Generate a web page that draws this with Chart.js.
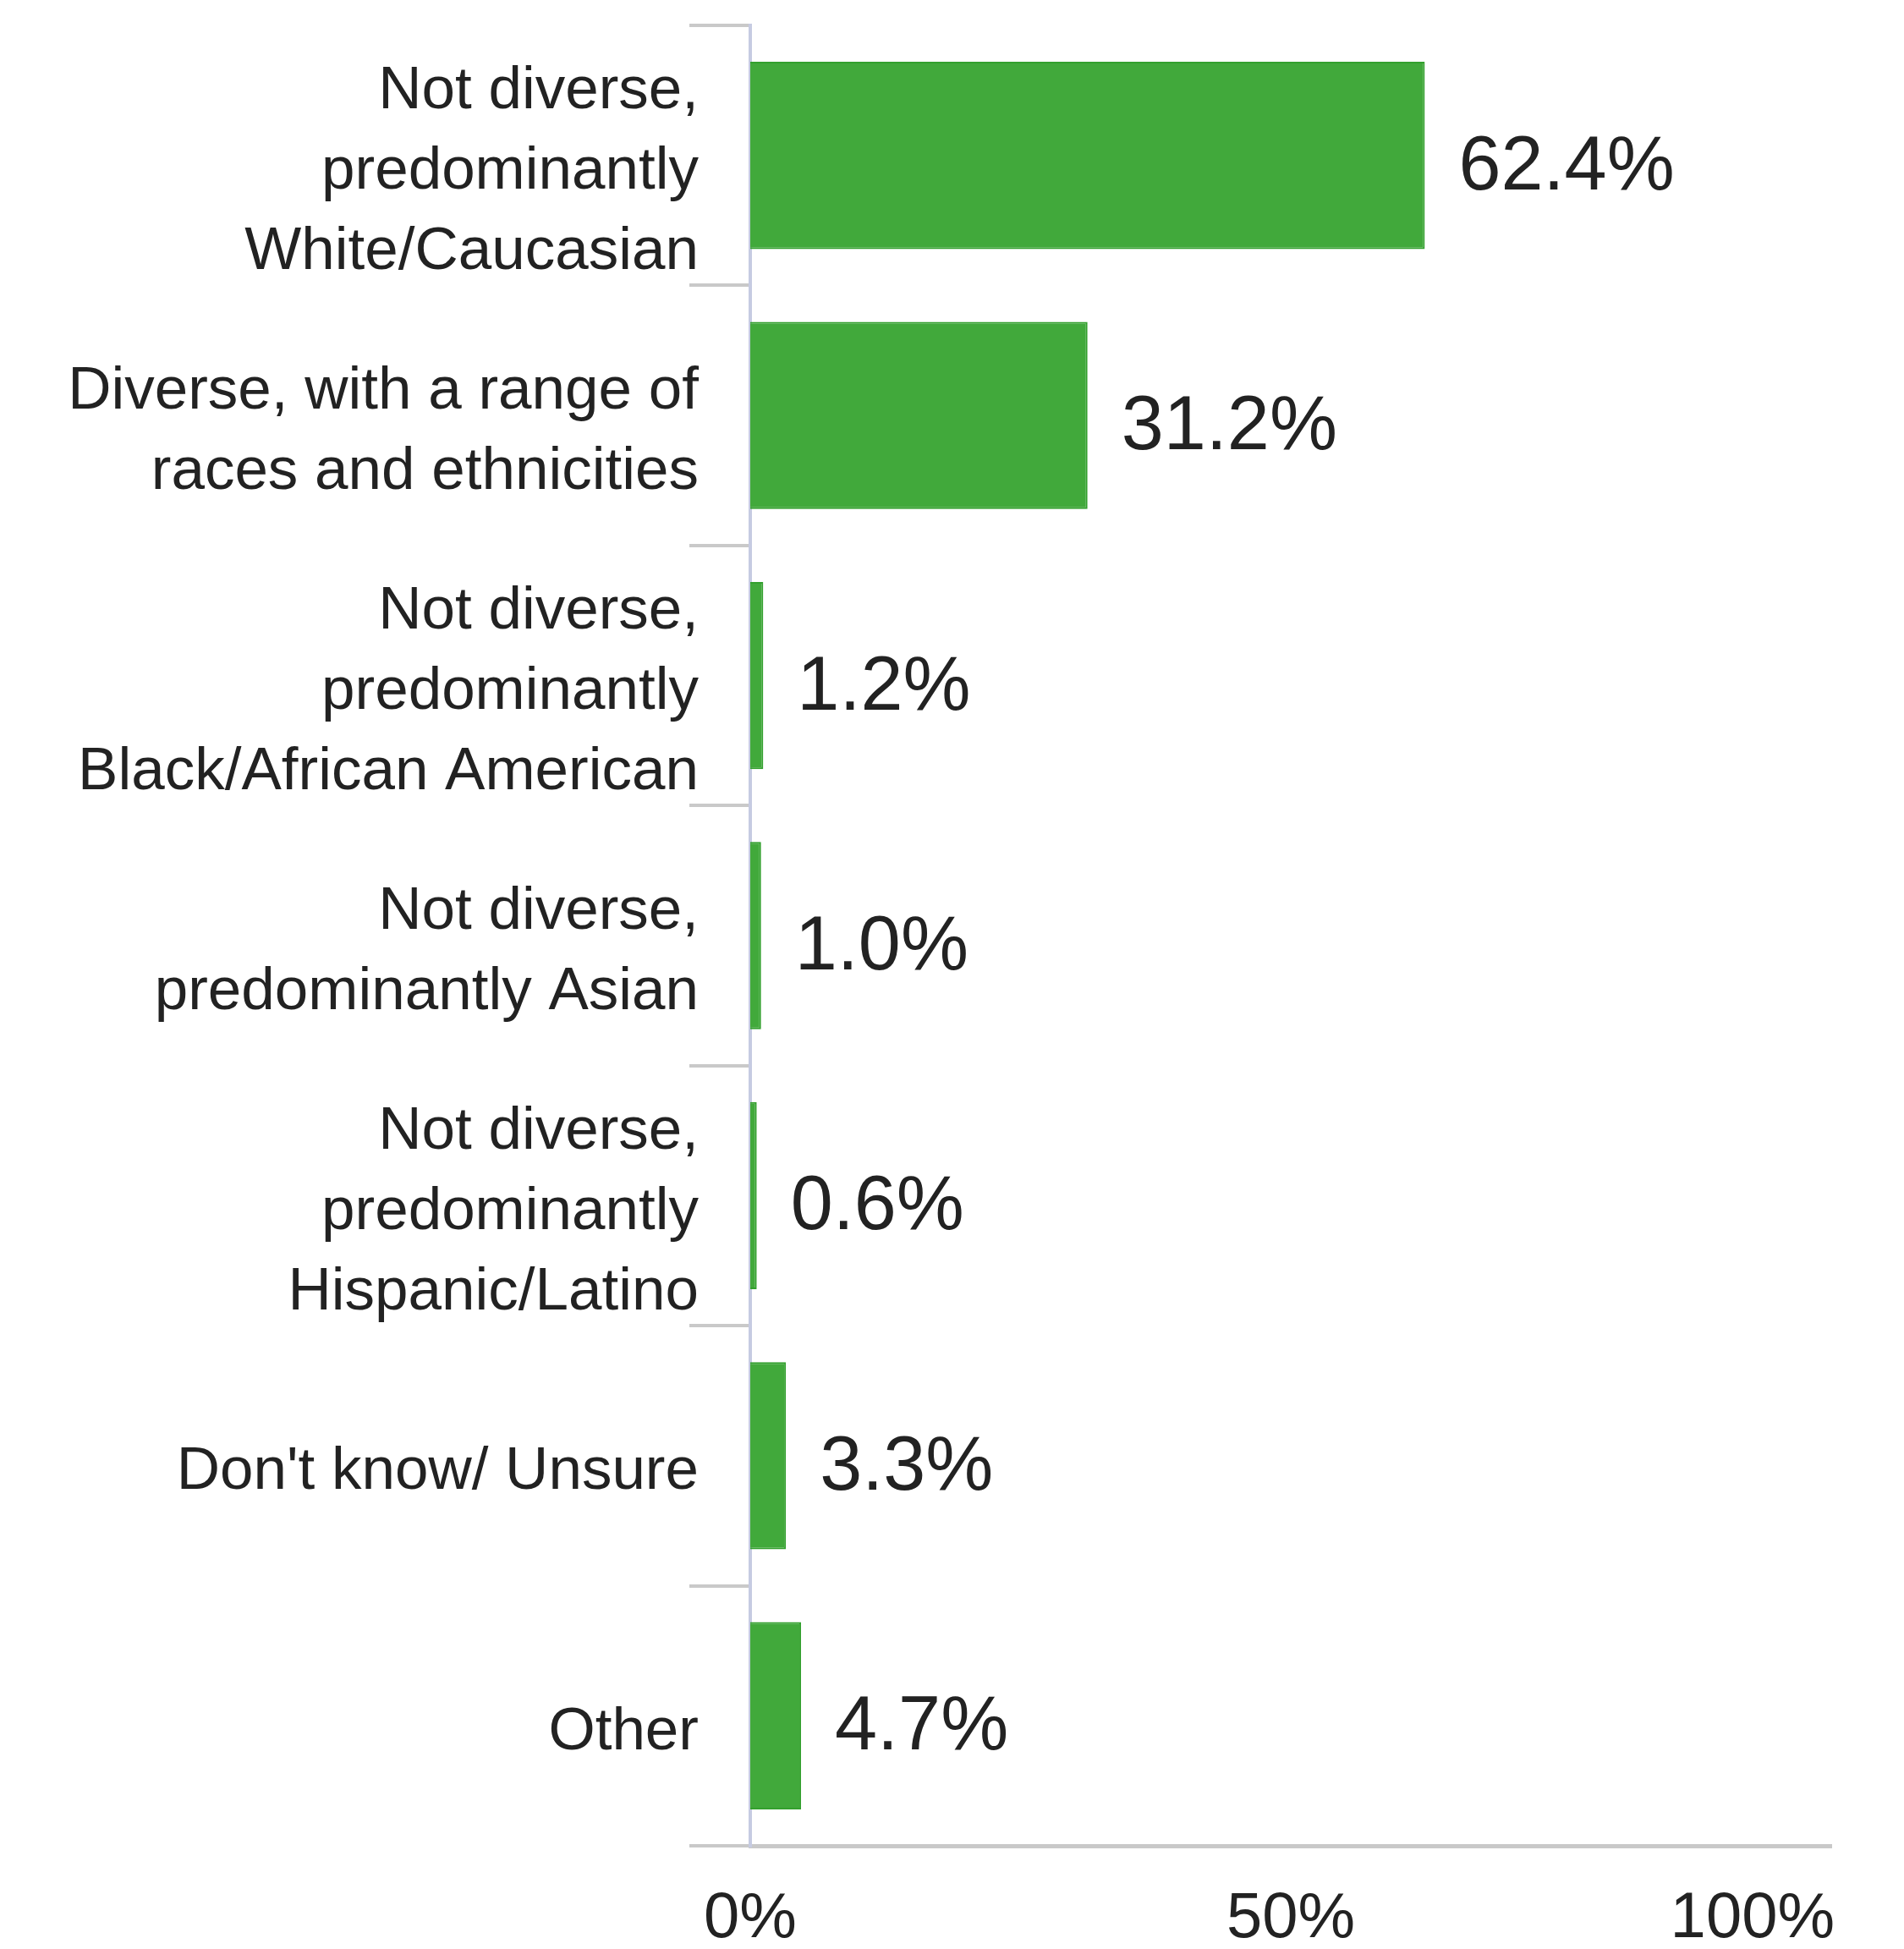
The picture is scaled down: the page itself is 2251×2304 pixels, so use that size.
<!DOCTYPE html>
<html>
<head>
<meta charset="utf-8">
<title>Neighborhood diversity</title>
<script src="https://cdn.jsdelivr.net/npm/chart.js@4.4.1/dist/chart.umd.min.js"></script>
<style>
  html, body { margin: 0; padding: 0; background: #fff; }
  #chart-wrap { width: 2251px; height: 2304px; position: relative; }
</style>
</head>
<body>
<div id="chart-wrap"><canvas id="diversity-chart"></canvas></div>
<script>
// answer options, one array of lines per bar
const categories = [
  ['Not diverse,', 'predominantly', 'White/Caucasian'],
  ['Diverse, with a range of', 'races and ethnicities'],
  ['Not diverse,', 'predominantly', 'Black/African American'],
  ['Not diverse,', 'predominantly Asian'],
  ['Not diverse,', 'predominantly', 'Hispanic/Latino'],
  "Don't know/ Unsure",
  'Other',
];

// share of respondents, in percent
const shares = [62.4, 31.2, 1.2, 1.0, 0.6, 3.3, 4.7];

// bottom axis ticks
const xTicks = [0, 50, 100];

const FONT = '"Liberation Sans", Arial, Helvetica, sans-serif';
const TEXT = '#222222';

// writes the percentage after each bar and the x tick labels
// (last tick label is kept inside the plot)
const labelPlugin = {
  id: 'labelPlugin',
  afterDatasetsDraw(chart) {
    const ctx = chart.ctx;
    const meta = chart.getDatasetMeta(0);
    ctx.save();
    ctx.fillStyle = TEXT;
    ctx.font = '90px ' + FONT;
    ctx.textAlign = 'left';
    ctx.textBaseline = 'alphabetic';
    meta.data.forEach((bar, i) => {
      ctx.fillText(shares[i].toFixed(1) + '%', bar.x + 40, bar.y + 40);
    });

    const xs = chart.scales.x;
    ctx.font = '76px ' + FONT;
    ctx.textAlign = 'center';
    xTicks.forEach(v => {
      const label = v + '%';
      const w = ctx.measureText(label).width;
      let px = xs.getPixelForValue(v);
      px = Math.min(px, chart.chartArea.right + 4 - w / 2);
      ctx.fillText(label, px, xs.top + 108);
    });
    ctx.restore();
  },
};

const config = {
  type: 'bar',
  data: {
    labels: categories,
    datasets: [
      {
        data: shares,
        backgroundColor: '#41a93b',
        borderColor: '#33a02e',
        borderWidth: 2,
        borderSkipped: 'left',
        barPercentage: 0.9,
        categoryPercentage: 0.8,
      },
    ],
  },
  options: {
    indexAxis: 'y',
    responsive: true,
    maintainAspectRatio: false,
    animation: false,
    layout: {
      padding: { top: 30, right: 86, left: 0, bottom: 0 },
    },
    scales: {
      x: {
        min: 0,
        max: 100,
        afterBuildTicks: scale => {
          scale.ticks = xTicks.map(v => ({ value: v }));
        },
        ticks: { display: false },
        grid: { display: false },
        border: { display: true, color: '#c9c9c9', width: 5 },
        afterFit: scale => {
          scale.height = 122;
          scale.paddingLeft = 0;
          scale.paddingRight = 0;
        },
      },
      y: {
        ticks: {
          color: TEXT,
          padding: -11,
          labelOffset: 20,
          font: { family: FONT, size: 71, lineHeight: 1.34 },
        },
        grid: {
          offset: true,
          drawOnChartArea: false,
          drawTicks: true,
          tickLength: 72,
          color: '#c9c9c9',
          lineWidth: 4,
        },
        border: { display: true, color: '#c6cbe2', width: 4 },
        afterFit: scale => {
          scale.width = 887;
          scale.paddingTop = 0;
          scale.paddingBottom = 0;
        },
      },
    },
    plugins: {
      legend: { display: false },
      tooltip: { enabled: false },
      title: { display: false },
    },
  },
  plugins: [labelPlugin],
};

const chart = new Chart(document.querySelector('#diversity-chart'), config);
</script>
</body>
</html>
